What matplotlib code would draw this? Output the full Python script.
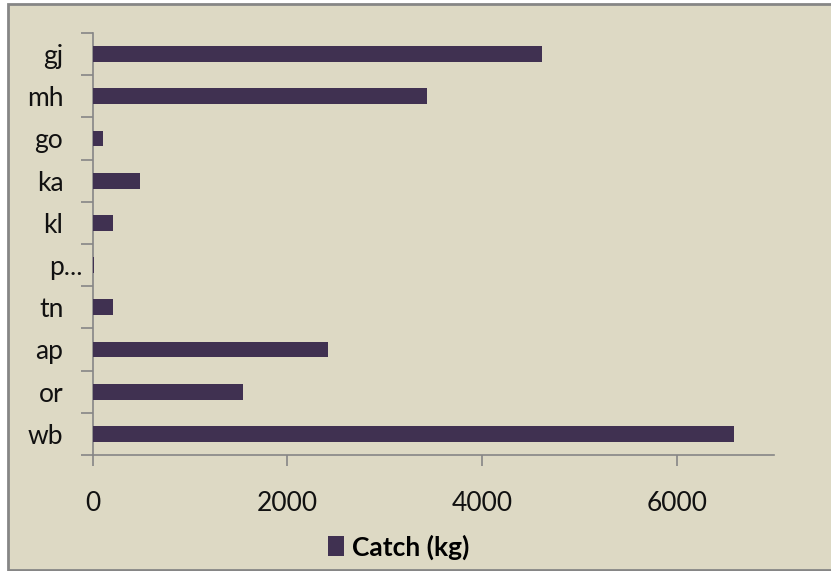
import matplotlib
matplotlib.use("Agg")
import matplotlib.pyplot as plt
import matplotlib.patches as mpatches
from matplotlib.transforms import ScaledTranslation

# data, top to bottom as in the chart
states = ["gj", "mh", "go", "ka", "kl", "p...", "tn", "ap", "or", "wb"]
catch_kg = [4620, 3440, 105, 490, 215, 20, 215, 2415, 1550, 6590]
xticks = [0, 2000, 4000, 6000]

bg = "#ddd9c4"
bar_col = "#403151"
axis_col = "#868686"

plt.rcParams["font.family"] = ["Lato", "DejaVu Sans"]

fig = plt.figure(figsize=(8.31, 5.71), dpi=100, facecolor="white")
# chart area frame
fig.patches.append(mpatches.Rectangle((7.5 / 831, 1 - 569.5 / 571), 1.0, 566 / 571,
                                      transform=fig.transFigure, facecolor=bg,
                                      edgecolor=axis_col, linewidth=2, zorder=-10))

ax = fig.add_axes([92.5 / 831, 1 - 455 / 571, (774 - 92.5) / 831, (455 - 33) / 571])
ax.set_facecolor("none")

n = len(states)
ypos = list(range(n - 1, -1, -1))
bars = ax.barh(ypos, catch_kg, height=0.37, color=bar_col, label="Catch (kg)", zorder=3)

ax.set_xlim(0, 7000)
ax.set_ylim(-0.5, n - 0.5)

for s in ["top", "right"]:
    ax.spines[s].set_visible(False)
for s in ["left", "bottom"]:
    ax.spines[s].set_color(axis_col)
    ax.spines[s].set_linewidth(1.2)

ax.set_xticks(xticks)
ax.set_xticklabels([str(v) for v in xticks])
ax.tick_params(axis="x", length=8, width=1.2, color=axis_col, pad=18,
               labelsize=19, labelcolor="#111111")

ax.set_yticks(ypos)
ax.set_yticklabels(states)
ax.set_yticks([i - 0.5 for i in range(n + 1)], minor=True)
ax.tick_params(axis="y", which="major", length=0, pad=21, labelsize=19, labelcolor="#111111")
ax.tick_params(axis="y", which="minor", length=9, width=1.2, color=axis_col)

# the truncated label sits further right
for t in ax.yaxis.get_major_ticks():
    if t.label1.get_text() == "p...":
        t.label1.set_transform(t.label1.get_transform() +
                               ScaledTranslation(19 / 100, 0, fig.dpi_scale_trans))

fig.legend(handles=[bars], loc="center", bbox_to_anchor=(399 / 831, 1 - 547 / 571),
           frameon=False, handlelength=0.6, handleheight=0.8, handletextpad=0.3,
           prop={"size": 19, "weight": "bold"})

fig.savefig("out.png", dpi=100, facecolor="white")
